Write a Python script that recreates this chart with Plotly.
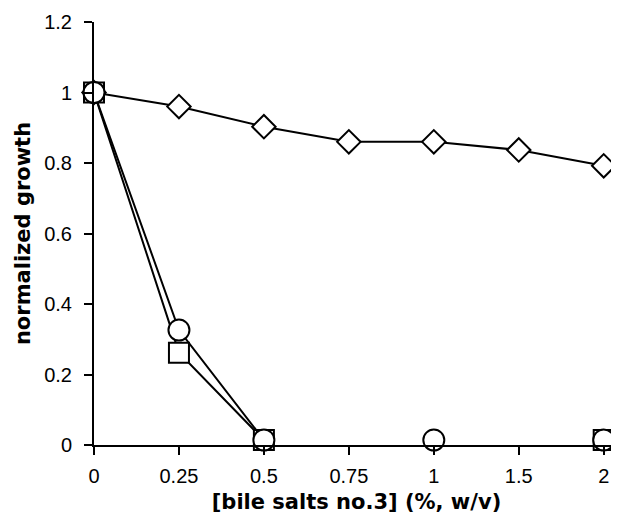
import plotly.graph_objects as go

concentrations = ["0", "0.25", "0.5", "0.75", "1", "1.5", "2"]
diamond_growth = [1.0, 0.96, 0.903, 0.86, 0.86, 0.837, 0.792]
square_growth = [1.0, 0.262, 0.014, None, None, None, 0.014]
circle_growth = [1.0, 0.326, 0.014, None, 0.014, None, 0.014]
y_ticks = [0, 0.2, 0.4, 0.6, 0.8, 1.0, 1.2]
y_tick_labels = ["0", "0.2", "0.4", "0.6", "0.8", "1", "1.2"]

TICK_FONT = "Liberation Sans, Arial, sans-serif"
TITLE_FONT = "DejaVu Sans, Arial, sans-serif"

fig = go.Figure()

def add_series(y, symbol, size):
    fig.add_trace(go.Scatter(
        x=concentrations, y=y, mode="lines+markers",
        line=dict(color="black", width=2),
        marker=dict(symbol=symbol, size=size, color="white",
                    line=dict(color="black", width=2)),
        connectgaps=False, cliponaxis=False, showlegend=False,
    ))

add_series(diamond_growth, "diamond", 18)
add_series(square_growth, "square", 20)
add_series(circle_growth, "circle", 21)

# page body has an 8px default margin, so the figure is 8px smaller
fig.update_layout(
    width=611, height=509,
    margin=dict(l=86, r=0, t=14, b=72),
    paper_bgcolor="white", plot_bgcolor="white",
    font=dict(family=TICK_FONT, size=20, color="black"),
)
fig.update_xaxes(
    type="category", range=[0, 6.18], automargin=False,
    showline=True, linecolor="black", linewidth=2,
    ticks="outside", ticklen=8, tickwidth=2, tickcolor="black",
    showgrid=False, zeroline=False, ticklabelstandoff=4,
    tickfont=dict(family=TICK_FONT, size=20),
    title=dict(text="<b>[bile salts no.3] (%, w/v)</b>",
               font=dict(family=TITLE_FONT, size=21), standoff=8),
)
fig.update_yaxes(
    range=[0, 1.2], tickvals=y_ticks, ticktext=y_tick_labels, automargin=False,
    showline=True, linecolor="black", linewidth=2,
    ticks="outside", ticklen=8, tickwidth=2, tickcolor="black",
    showgrid=False, zeroline=False, ticklabelstandoff=8,
    tickfont=dict(family=TICK_FONT, size=20),
    title=dict(text="<b>normalized growth</b>",
               font=dict(family=TITLE_FONT, size=21), standoff=8),
)

fig.write_html("out.html")
